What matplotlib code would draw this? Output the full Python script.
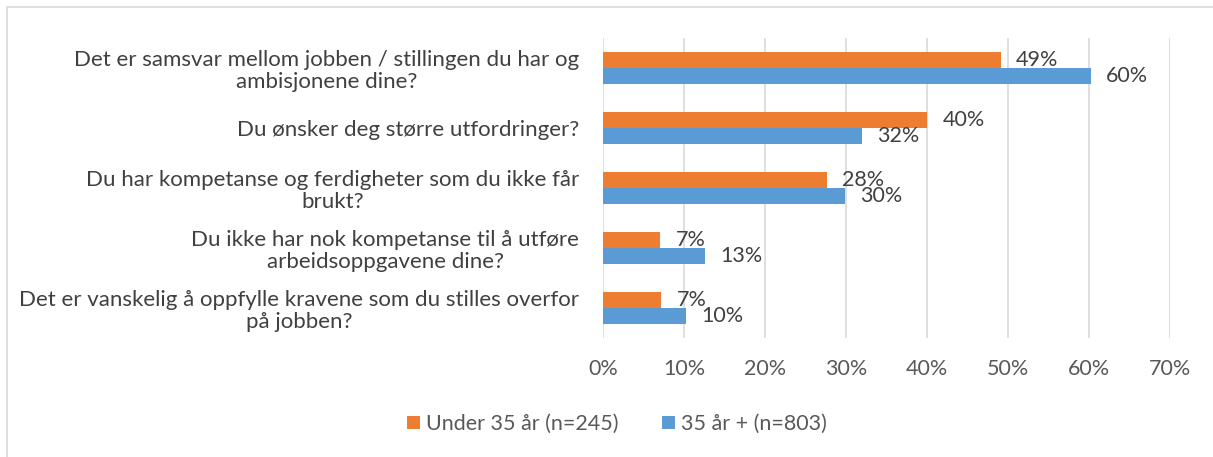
import numpy as np
import matplotlib
matplotlib.use('Agg')
import matplotlib.pyplot as plt
from matplotlib.patches import Rectangle

plt.rcParams['font.family'] = ['Lato', 'DejaVu Sans']

categories = [
    "Det er samsvar mellom jobben / stillingen du har og\nambisjonene dine?",
    "Du ønsker deg større utfordringer?",
    "Du har kompetanse og ferdigheter som du ikke får\nbrukt?",
    "Du ikke har nok kompetanse til å utføre\narbeidsoppgavene dine?",
    "Det er vanskelig å oppfylle kravene som du stilles overfor\npå jobben?",
]
under_35 = [49.1, 40.0, 27.6, 7.1, 7.2]
over_35 = [60.2, 32.0, 29.9, 12.6, 10.3]
series_names = ["Under 35 år (n=245)", "35 år + (n=803)"]
xticks = [0, 10, 20, 30, 40, 50, 60, 70]

orange = '#ED7D31'
blue = '#5B9BD5'

fig = plt.figure(figsize=(12.13, 4.57), dpi=100)
ax = fig.add_axes([0.497, 0.2604, 0.4677, 0.6564])

# outer frame like the Excel chart area
fig.patches.append(Rectangle((7/1213, -0.1), 1.2, 1.1 - 7/457,
                             transform=fig.transFigure, fill=False,
                             edgecolor='#D9D9D9', linewidth=1.2))

y = np.arange(len(categories))
h = 0.27

b1 = ax.barh(y - h/2, under_35, height=h, color=orange, label=series_names[0])
b2 = ax.barh(y + h/2, over_35, height=h, color=blue, label=series_names[1])

for bars, vals in [(b1, under_35), (b2, over_35)]:
    for rect, v in zip(bars, vals):
        ax.annotate(f"{round(v):.0f}%", (rect.get_width(), rect.get_y() + rect.get_height()/2),
                    xytext=(11, 0), textcoords='offset points', va='center', ha='left',
                    fontsize=15.5, color='#404040')

ax.set_xlim(0, 70)
ax.set_ylim(len(categories) - 0.5, -0.5)
ax.set_xticks(xticks)
ax.set_xticklabels([f"{t}%" for t in xticks], fontsize=15.5, color='#595959')
ax.set_yticks(y)
ax.set_yticklabels(categories, fontsize=16, color='#404040', multialignment='center',
                   linespacing=1.15)
ax.tick_params(axis='x', length=0, pad=15)
ax.tick_params(axis='y', length=0, pad=17)
ax.grid(axis='x', color='#D9D9D9', linewidth=1.2)
ax.set_axisbelow(True)
for s in ax.spines.values():
    s.set_visible(False)

fig.legend(handles=[b1, b2], loc='center', bbox_to_anchor=(617/1213, 1 - 424/457),
           ncol=2, frameon=False, fontsize=15.5, labelcolor='#595959',
           handlelength=0.6, handleheight=0.6, handletextpad=0.3, columnspacing=2.0)

fig.savefig('out.png', dpi=100)
